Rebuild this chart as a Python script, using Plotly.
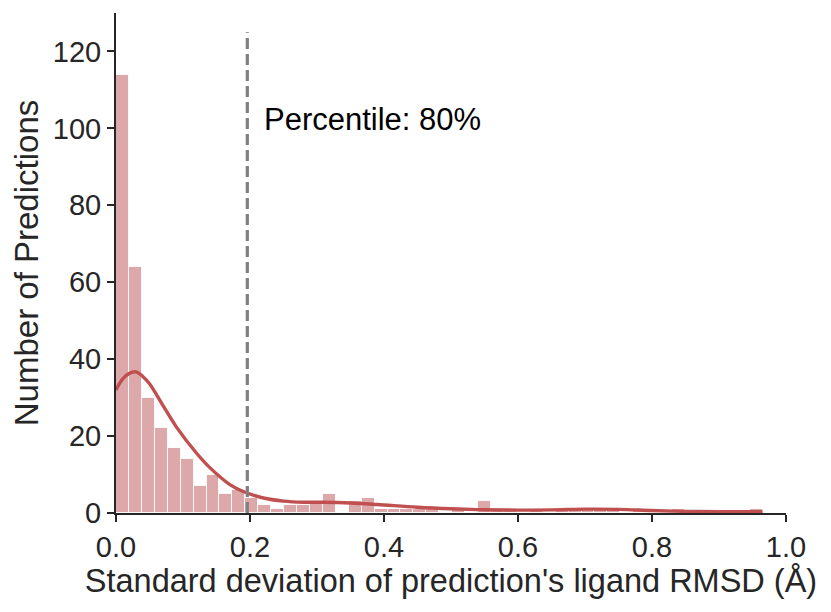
import numpy as np
import plotly.graph_objects as go

# Histogram (50 bins)
bin_start = 0.0
bin_width = 0.0193
counts = [114, 64, 30, 22, 17, 14, 7, 10, 5, 6,
          4, 2, 1, 2, 2, 3, 5, 0, 3, 4,
          1, 1, 1, 1, 1, 0, 1, 0, 3, 1,
          1, 0, 1, 0, 1, 1, 1, 1, 1, 0,
          1, 0, 0, 1, 0, 0, 0, 0, 0, 1]

# KDE curve
kde_x = [0.0, 0.01, 0.02, 0.03, 0.04, 0.05, 0.07, 0.09, 0.12, 0.14, 0.17, 0.19,
         0.22, 0.25, 0.28, 0.31, 0.35, 0.39, 0.45, 0.5, 0.55, 0.6, 0.65, 0.7,
         0.75, 0.8, 0.85, 0.9, 0.965]
kde_y = [32.0, 34.9, 36.3, 36.7, 35.5, 33.6, 28.0, 22.4, 15.6, 11.8, 7.4, 5.6,
         3.9, 3.1, 2.8, 2.8, 2.6, 2.2, 1.5, 1.1, 0.85, 0.75, 0.8, 1.0,
         0.95, 0.65, 0.42, 0.33, 0.35]

percentile_x = 0.196
percentile_top = 125
percentile_label = "Percentile: 80%"

x_ticks = [0.0, 0.2, 0.4, 0.6, 0.8, 1.0]
y_ticks = [0, 20, 40, 60, 80, 100, 120]

centers = bin_start + (np.arange(len(counts)) + 0.5) * bin_width

FONT = "Liberation Sans, Arial, sans-serif"
DARK = "#262626"

fig = go.Figure()
fig.add_trace(go.Bar(
    x=centers, y=counts, width=bin_width,
    marker=dict(color="#dca8a9", line=dict(color="rgba(255,255,255,0.85)", width=1)),
    showlegend=False, hoverinfo="skip",
))
fig.add_trace(go.Scatter(
    x=kde_x, y=kde_y, mode="lines",
    line=dict(color="#c0504f", width=3.4, shape="spline", smoothing=1.0),
    showlegend=False, hoverinfo="skip",
))
fig.add_trace(go.Scatter(
    x=[percentile_x, percentile_x], y=[0, percentile_top], mode="lines",
    line=dict(color="#7f7f7f", width=3.2, dash="11px,5px"),
    showlegend=False, hoverinfo="skip",
))

fig.add_annotation(
    x=0.218, y=102.3, xref="x", yref="y", text=percentile_label,
    showarrow=False, xanchor="left", yanchor="middle",
    font=dict(family=FONT, size=31, color="black"),
)

fig.update_layout(
    width=831, height=612,
    margin=dict(l=108, r=53, t=5, b=107),
    paper_bgcolor="white", plot_bgcolor="white",
    bargap=0,
    font=dict(family=FONT, color=DARK),
)
fig.update_xaxes(
    range=[0, 1.0], tickvals=x_ticks, ticktext=[f"{v:.1f}" for v in x_ticks],
    showgrid=False, zeroline=False,
    showline=True, linecolor=DARK, linewidth=2,
    ticks="outside", ticklen=7, tickwidth=2, tickcolor=DARK,
    tickfont=dict(family=FONT, size=29, color=DARK),
    title=dict(text="Standard deviation of prediction's ligand RMSD (Å)",
               font=dict(family=FONT, size=32.5, color=DARK), standoff=4),
)
fig.update_yaxes(
    range=[0, 130], tickvals=y_ticks,
    showgrid=False, zeroline=False,
    showline=True, linecolor=DARK, linewidth=2,
    ticks="outside", ticklen=7, tickwidth=2, tickcolor=DARK,
    tickfont=dict(family=FONT, size=29, color=DARK),
    title=dict(text="Number of Predictions",
               font=dict(family=FONT, size=33, color=DARK), standoff=6),
)

fig.write_html("out.html")
